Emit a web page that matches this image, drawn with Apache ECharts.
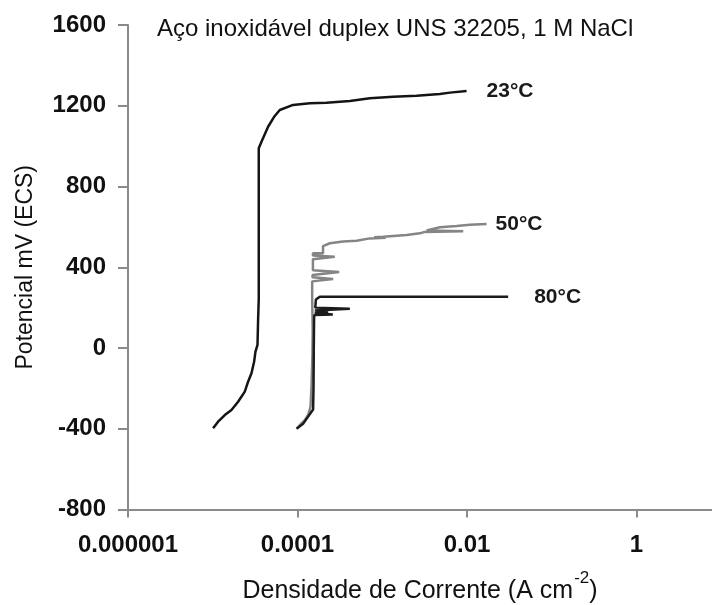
<!DOCTYPE html>
<html>
<head>
<meta charset="utf-8">
<script src="https://cdn.jsdelivr.net/npm/echarts@6/dist/echarts.min.js"></script>
<style>html,body{margin:0;padding:0;background:#fff}#c{width:712px;height:605px}</style>
</head>
<body>
<div id="c"></div>
<script>
// Current density (A cm-2) vs potential (mV ECS)
var xTickValues = [1e-6, 1e-4, 1e-2, 1, 100];
var xTickLabels = ['0.000001', '0.0001', '0.01', '1', '100'];
var yTicks = [-800, -400, 0, 400, 800, 1200, 1600];
var seriesNames = ['23°C', '50°C', '80°C'];

var curve23 = [
  [1.009e-5, -398], [1.156e-5, -365], [1.387e-5, -332], [1.663e-5, -307], [1.991e-5, -266],
  [2.388e-5, -216], [2.612e-5, -167], [2.864e-5, -125], [3.076e-5, -68], [3.192e-5, -18],
  [3.373e-5, 15], [3.428e-5, 139], [3.491e-5, 246], [3.491e-5, 989], [3.758e-5, 1022],
  [4.498e-5, 1096], [5.272e-5, 1144], [6.18e-5, 1179], [8.87e-5, 1204], [1.396e-4, 1212],
  [2.198e-4, 1215], [4.14e-4, 1223], [7.14e-4, 1237], [1.346e-3, 1245], [2.541e-3, 1250],
  [4.786e-3, 1258], [6.28e-3, 1265], [9.89e-3, 1273]
];

var curve50 = [
  [9.9e-5, -398], [1.114e-4, -373], [1.219e-4, -357], [1.334e-4, -332], [1.424e-4, -291],
  [1.462e-4, -192], [1.486e-4, -93], [1.50e-4, -26], [1.51e-4, 89], [1.49e-4, 254],
  [1.49e-4, 330], [2.63e-4, 342], [1.50e-4, 350], [1.51e-4, 362], [3.10e-4, 376],
  [1.52e-4, 385], [1.52e-4, 440], [2.75e-4, 452], [1.52e-4, 458], [1.52e-4, 469],
  [2.0e-4, 469], [2.0e-4, 505], [2.404e-4, 519], [3.451e-4, 527], [4.977e-4, 531],
  [7.14e-4, 543], [1.10e-3, 546], [8.0e-4, 549], [1.026e-3, 551], [1.936e-3, 560],
  [2.78e-3, 568], [3.1e-3, 574], [9.02e-3, 578], [3.334e-3, 582], [4.786e-3, 598],
  [7.53e-3, 604], [1.081e-2, 611], [1.702e-2, 614]
];

var curve80 = [
  [9.73e-5, -400], [1.164e-4, -375], [1.334e-4, -340], [1.528e-4, -305], [1.545e-4, -200],
  [1.557e-4, 0], [1.57e-4, 150], [1.58e-4, 163], [2.61e-4, 166], [1.60e-4, 172],
  [2.3e-4, 180], [1.60e-4, 186], [4.145e-4, 195], [1.62e-4, 200], [1.65e-4, 240],
  [1.832e-4, 254], [3.06e-2, 254]
];

var FONT = '"Liberation Sans", Arial, sans-serif';
var chart = echarts.init(document.getElementById('c'), null, {renderer: 'canvas'});

function lineSeries(name, data, color, dist) {
  return {
    name: name, type: 'line', data: data, showSymbol: false, symbol: 'none',
    lineStyle: {color: color, width: 2.5}, itemStyle: {color: color},
    endLabel: {show: true, formatter: '{a}', distance: dist, fontFamily: FONT,
      fontSize: 21, fontWeight: 'bold', color: '#1a1a1a'},
    emphasis: {disabled: true}
  };
}

chart.setOption({
  animation: false,
  backgroundColor: '#fff',
  title: {
    text: 'Aço inoxidável duplex UNS 32205, 1 M NaCl',
    left: 157, top: 17, padding: 0,
    textStyle: {fontFamily: FONT, fontSize: 24, fontWeight: 'normal', color: '#111'}
  },
  grid: {left: 128, top: 25, width: 678, height: 484.5, containLabel: false, outerBoundsMode: 'none'},
  xAxis: {
    type: 'log', logBase: 10, min: 1e-6, max: 100, interval: 2,
    name: '{a|Densidade de Corrente (A cm}{s|-2}{a|)}',
    nameLocation: 'middle', nameGap: 60,
    nameTextStyle: {
      padding: [0, 94, 0, 0],
      rich: {
        a: {fontFamily: FONT, fontSize: 25, color: '#111', lineHeight: 34, verticalAlign: 'bottom'},
        s: {fontFamily: FONT, fontSize: 17, color: '#111', lineHeight: 34, verticalAlign: 'top', padding: [0, 0, 0, 1]}
      }
    },
    axisLine: {show: true, onZero: false, lineStyle: {color: '#8a8a8a', width: 2}},
    axisTick: {show: true, inside: false, length: 8, lineStyle: {color: '#8a8a8a', width: 2}},
    minorTick: {show: false},
    splitLine: {show: false},
    axisLabel: {
      margin: 24, fontFamily: FONT, fontSize: 24, fontWeight: 'bold', color: '#111',
      formatter: function (v) {
        var best = 0, bd = Infinity;
        for (var i = 0; i < xTickValues.length; i++) {
          var d = Math.abs(Math.log10(v) - Math.log10(xTickValues[i]));
          if (d < bd) { bd = d; best = i; }
        }
        return xTickLabels[best];
      }
    }
  },
  yAxis: {
    type: 'value', min: yTicks[0], max: yTicks[yTicks.length - 1], interval: 400,
    name: 'Potencial mV (ECS)', nameLocation: 'middle', nameGap: 91, nameRotate: 90,
    nameTextStyle: {fontFamily: FONT, fontSize: 23, color: '#111'},
    axisLine: {show: true, onZero: false, lineStyle: {color: '#8a8a8a', width: 2}},
    axisTick: {show: true, inside: false, length: 10, lineStyle: {color: '#8a8a8a', width: 2}},
    splitLine: {show: false},
    axisLabel: {margin: 22, fontFamily: FONT, fontSize: 24, fontWeight: 'bold', color: '#111',
      formatter: function (v) { return String(v); }}
  },
  series: [
    lineSeries(seriesNames[0], curve23, '#141414', 20),
    lineSeries(seriesNames[1], curve50, '#858585', 9),
    lineSeries(seriesNames[2], curve80, '#1c1c1c', 26)
  ]
});
</script>
</body>
</html>
